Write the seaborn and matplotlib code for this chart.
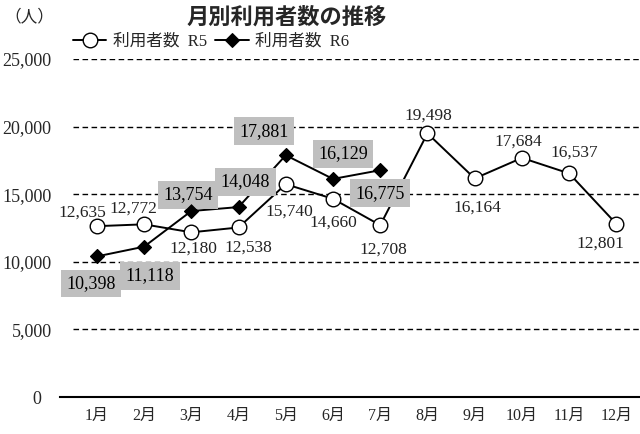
import numpy as np
import pandas as pd
import matplotlib
matplotlib.use("Agg")
import matplotlib.pyplot as plt
import matplotlib.transforms as mtransforms
import seaborn as sns

# データ
months = ["1月", "2月", "3月", "4月", "5月", "6月", "7月", "8月", "9月", "10月", "11月", "12月"]
r5 = [12635, 12772, 12180, 12538, 15740, 14660, 12708, 19498, 16164, 17684, 16537, 12801]
r6 = [10398, 11118, 13754, 14048, 17881, 16129, 16775]
yticks = [0, 5000, 10000, 15000, 20000, 25000]

# ラベル位置 (点からのずれ, ピクセル)
r5_offsets = [(-15, 14), (-11, 16), (2, -16), (10, -20), (4, -27), (0, -24),
              (3, -24), (1, 18), (3, -29), (-4, 16), (5, 21), (-16, -20)]
r6_offsets = [(-6, -27), (6, -29), (-3, 16), (7, 25), (-22, 24), (10, 25), (0, -23)]

sns.set_theme(style="white")
jp = ["Liberation Serif", "Noto Sans CJK JP", "DejaVu Sans"]
plt.rcParams["font.family"] = jp

fig = plt.figure(figsize=(6.4, 4.34), dpi=100)
ax = fig.add_axes([60 / 640, 1 - 397 / 434, 580 / 640, 338 / 434])

x5 = np.arange(len(r5))
x6 = np.arange(len(r6))

# 点線グリッド
ax.hlines(yticks[1:], -0.5, 11.5, colors="black", linestyles=(0, (4, 2.5)), linewidth=1.0)

sns.lineplot(x=x5, y=r5, ax=ax, color="black", linewidth=1.4, marker="o", markersize=10.5,
             markerfacecolor="white", markeredgecolor="black", markeredgewidth=1.0,
             label="利用者数  R5", zorder=3)
sns.lineplot(x=x6, y=r6, ax=ax, color="black", linewidth=1.4, marker="D", markersize=7,
             markerfacecolor="black", markeredgecolor="black",
             label="利用者数  R6", zorder=4)
# マーカーをラベルより前に
sns.scatterplot(x=x6, y=r6, ax=ax, marker="D", s=49, color="black", edgecolor="black",
                zorder=7, legend=False)

for xi, v, off in zip(x5, r5, r5_offsets):
    ax.annotate(f"{v:,}", (xi, v), xytext=off, textcoords="offset pixels",
                ha="center", va="center", fontsize=12.5, color="#222222")
for xi, v, off in zip(x6, r6, r6_offsets):
    ax.annotate(f"{v:,}", (xi, v), xytext=off, textcoords="offset pixels",
                ha="center", va="center", fontsize=13, color="black", zorder=5,
                bbox=dict(boxstyle="square,pad=0.3", facecolor="#bfbfbf", edgecolor="none"))

ax.set_xlim(-0.78, 11.5)
ax.set_ylim(0, 25000)
ax.set_xticks(x5)
ax.set_xticklabels(months, fontsize=11.5)
ax.set_yticks(yticks)
ax.set_yticklabels([f"{t:,}" for t in yticks], fontsize=13)
ax.tick_params(axis="y", length=0, pad=6)
ax.tick_params(axis="x", length=0, pad=8)
for s in ["top", "right", "left"]:
    ax.spines[s].set_visible(False)
ax.spines["bottom"].set_color("black")
ax.spines["bottom"].set_linewidth(1.5)
ax.set_xlabel("")
ax.set_ylabel("")

# 0 のラベルを少し左へ
lab0 = ax.get_yticklabels()[0]
lab0.set_transform(lab0.get_transform() + mtransforms.ScaledTranslation(-10 / 100, 0, fig.dpi_scale_trans))

leg = ax.legend(loc="lower left", bbox_to_anchor=(73 / 640, 1 - 50 / 434), bbox_transform=fig.transFigure,
                ncol=2, frameon=False, fontsize=12, handlelength=2.0, handletextpad=0.4,
                columnspacing=0.5, borderaxespad=0, borderpad=0)

fig.text(287 / 640, 1 - 17 / 434, "月別利用者数の推移", ha="center", va="center",
         fontsize=16, fontweight="bold", family=["Noto Sans CJK JP"])
fig.text(4 / 640, 1 - 17 / 434, "（人）", ha="left", va="center", fontsize=12,
         family=["Noto Sans CJK JP"])

fig.savefig("out.png", dpi=100)
